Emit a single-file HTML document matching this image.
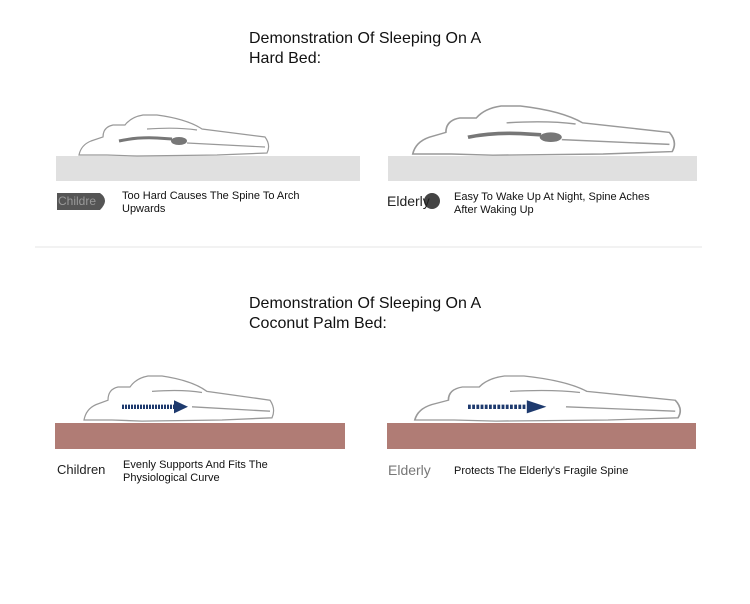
<!DOCTYPE html>
<html><head><style>
body{margin:0;width:750px;height:604px;background:#fff;position:relative;font-family:"Liberation Sans",sans-serif;overflow:hidden}
.t{position:absolute;font-size:16px;line-height:20px;color:#111}
.s{position:absolute;font-size:11px;line-height:13px;color:#111}
.l{position:absolute;font-size:14px;color:#222}
svg{position:absolute;left:0;top:0}
</style></head><body>
<svg width="750" height="604">
<defs>
<g id="body" fill="#fff" stroke="#999" stroke-width="1.2">
<path d="M2,40 Q4,30 14,26 Q20,24 26,22 Q26,12 36,10 L48,10 Q54,2 66,0 L80,0 Q110,4 125,14 L188,22 Q194,30 190,38 L140,40 L60,41 L30,40 Z"/>
<path d="M70,14 Q100,12 120,15" fill="none"/>
<path d="M110,28 L188,32" fill="none"/>
</g>
</defs>
<rect x="56" y="156" width="304" height="25" fill="#e0e0e0"/>
<rect x="388" y="156" width="309" height="25" fill="#e0e0e0"/>
<g transform="translate(77,115)"><use href="#body"/><path d="M42,26 Q60,22 80,23 L95,24" stroke="#777" stroke-width="3" fill="none"/><ellipse cx="102" cy="26" rx="8" ry="4" fill="#777"/></g>
<g transform="translate(410,106) scale(1.38,1.2)"><use href="#body"/><path d="M42,26 Q60,22 80,23 L95,24" stroke="#777" stroke-width="3" fill="none"/><ellipse cx="102" cy="26" rx="8" ry="4" fill="#777"/></g>
<line x1="35" y1="247" x2="702" y2="247" stroke="#e6e6e6"/>
<rect x="55" y="423" width="290" height="26" fill="#b07c75"/>
<rect x="387" y="423" width="309" height="26" fill="#b07c75"/>
<g transform="translate(82,376) scale(1,1.1)"><use href="#body"/><path d="M40,28 L92,28" stroke="#1e3a6e" stroke-width="4" stroke-dasharray="2,1" fill="none"/><path d="M92,22 L106,28 L92,34 Z" fill="#1e3a6e"/></g>
<g transform="translate(412,376) scale(1.4,1.1)"><use href="#body"/><path d="M40,28 L82,28" stroke="#1e3a6e" stroke-width="4" stroke-dasharray="2,1" fill="none"/><path d="M82,22 L96,28 L82,34 Z" fill="#1e3a6e"/></g>
<path d="M57,193 L100,193 Q110,200 100,210 L57,210 Z" fill="#555"/>
<circle cx="432" cy="201" r="8" fill="#444"/>
</svg>
<div class="t" style="left:249px;top:29px">Demonstration Of Sleeping On A<br>Hard Bed:</div>
<div class="t" style="left:249px;top:294px">Demonstration Of Sleeping On A<br>Coconut Palm Bed:</div>
<div class="l" style="left:58px;top:194px;font-size:12px;color:#999">Childre</div>
<div class="s" style="left:122px;top:190px">Too Hard Causes The Spine To Arch<br>Upwards</div>
<div class="l" style="left:387px;top:193px">Elderly</div>
<div class="s" style="left:454px;top:191px">Easy To Wake Up At Night, Spine Aches<br>After Waking Up</div>
<div class="l" style="left:57px;top:462px;font-size:13px">Children</div>
<div class="s" style="left:123px;top:459px">Evenly Supports And Fits The<br>Physiological Curve</div>
<div class="l" style="left:388px;top:462px;color:#777">Elderly</div>
<div class="s" style="left:454px;top:465px">Protects The Elderly's Fragile Spine</div>
</body></html>
